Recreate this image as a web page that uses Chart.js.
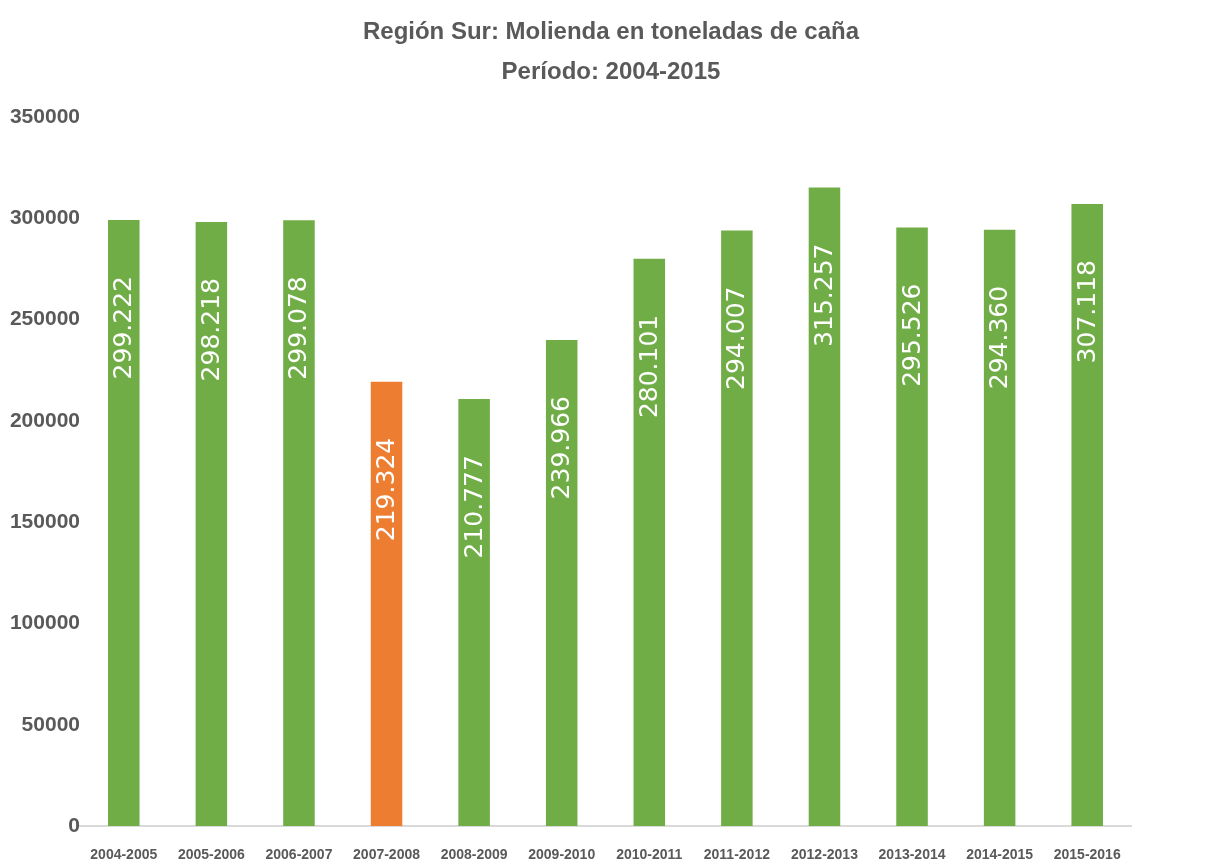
<!DOCTYPE html>
<html>
<head>
<meta charset="utf-8">
<script src="https://cdn.jsdelivr.net/npm/chart.js@4"></script>
<style>
  body { margin: 0; background: #fff; }
</style>
</head>
<body>
<canvas id="chart" width="1222" height="864"></canvas>
<script>
// Zafras (categorias)
const zafras = ['2004-2005', '2005-2006', '2006-2007', '2007-2008', '2008-2009', '2009-2010',
  '2010-2011', '2011-2012', '2012-2013', '2013-2014', '2014-2015', '2015-2016'];

// Molienda en toneladas de caña
const molienda = [299222, 298218, 299078, 219324, 210777, 239966,
  280101, 294007, 315257, 295526, 294360, 307118];

// Zafra resaltada en naranja
const resaltada = '2007-2008';

const yTicks = [0, 50000, 100000, 150000, 200000, 250000, 300000, 350000];

const verde = '#70AD47';
const naranja = '#ED7D31';
const gris = '#595959';

// Formato con punto de miles
var conPunto = function(v) {
  return String(v).replace(/\B(?=(\d{3})+(?!\d))/g, '.');
};

// Etiquetas verticales dentro de las barras
const etiquetas = {
  id: 'etiquetasVerticales',
  afterDatasetsDraw(chart) {
    const {ctx} = chart;
    const meta = chart.getDatasetMeta(0);
    ctx.save();
    ctx.fillStyle = '#FFFFFF';
    ctx.font = '25px "DejaVu Sans"';
    ctx.textAlign = 'right';
    ctx.textBaseline = 'middle';
    meta.data.forEach((bar, i) => {
      ctx.save();
      ctx.translate(bar.x + 1, bar.y + 56);
      ctx.rotate(-Math.PI / 2);
      ctx.fillText(conPunto(molienda[i]), 0, 0);
      ctx.restore();
    });
    ctx.restore();
  }
};

new Chart(document.getElementById('chart'), {
  type: 'bar',
  data: {
    labels: zafras,
    datasets: [{
      data: molienda,
      backgroundColor: zafras.map(z => z === resaltada ? naranja : verde),
      barPercentage: 0.72,
      categoryPercentage: 0.5
    }]
  },
  options: {
    responsive: false,
    animation: false,
    layout: { padding: 0 },
    plugins: {
      legend: { display: false },
      tooltip: { enabled: false },
      title: {
        display: true,
        text: ['Región Sur: Molienda en toneladas de caña', 'Período: 2004-2015'],
        color: gris,
        font: { family: '"Liberation Sans"', size: 24, weight: 'bold', lineHeight: 1.67 },
        padding: { top: 12, bottom: 25 }
      }
    },
    scales: {
      x: {
        grid: { display: false },
        border: { display: true, color: '#D9D9D9', width: 2 },
        afterFit: axis => { axis.height = 38; },
        ticks: {
          color: gris,
          font: { family: '"Liberation Sans"', size: 14, weight: 'bold' },
          maxRotation: 0,
          padding: 13
        }
      },
      y: {
        min: 0,
        max: 350000,
        afterBuildTicks: axis => { axis.ticks = yTicks.map(v => ({ value: v })); },
        afterFit: axis => { axis.width = 80; },
        grid: { display: false, drawTicks: false },
        border: { display: false },
        ticks: {
          color: gris,
          font: { family: '"Liberation Sans"', size: 21, weight: 'bold' },
          padding: 0,
          callback: v => String(v)
        }
      },
      // eje vacio a la derecha para dejar el margen
      margen: {
        position: 'right',
        afterFit: axis => { axis.width = 91; },
        grid: { display: false },
        border: { display: false },
        ticks: { display: false }
      }
    }
  },
  plugins: [etiquetas]
});
</script>
</body>
</html>
